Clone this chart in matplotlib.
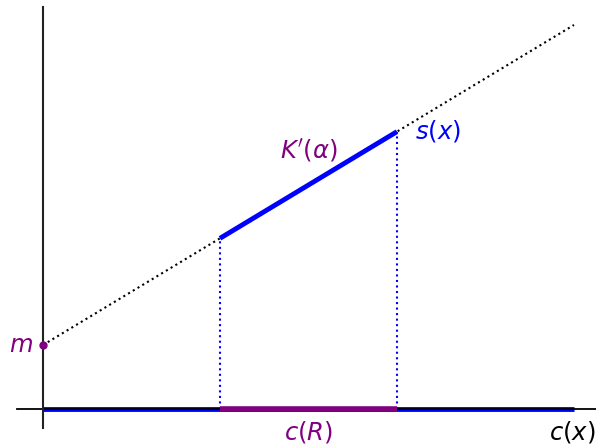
import numpy as np
import matplotlib.pyplot as plt

# line s(x) = m + k * c(x), drawn as dotted over the full range
m = 1.0
k = 5 / 6
x_full = [0.0, 6.0]
x_R = [2.0, 4.0]          # c(R) interval

labels = {
    "m": r"$m$",
    "K": r"$K'(\alpha)$",
    "s": r"$s(x)$",
    "cR": r"$c(R)$",
    "cx": r"$c(x)$",
}

purple = "#800080"
blue = "#0000ff"


def s(x):
    return m + k * np.asarray(x)


fig = plt.figure(figsize=(5.96, 4.45), dpi=100)
ax = fig.add_axes([0, 0, 1, 1])
ax.set_xlim(-0.486, 6.249)
ax.set_ylim(-0.5625, 6.39)
ax.axis("off")

# blue thick line along the x axis, then the axes themselves
ax.plot(x_full, [0, 0], color=blue, lw=3.5, solid_capstyle="butt", zorder=2)
ax.plot([-0.294, 6.25], [0, 0], color="black", lw=1.3, zorder=3)
ax.plot([0, 0], [-0.297, 6.28], color="#222222", lw=1.5, zorder=3)

# c(R) segment on the axis
ax.plot(x_R, [0, 0], color=purple, lw=4, solid_capstyle="butt", zorder=4)

# dotted line s(x)
ax.plot(x_full, s(x_full), color="black", ls=":", lw=1.5, zorder=2)

# vertical dotted projections
for xv in x_R:
    ax.plot([xv, xv], [0, s(xv)], color=blue, ls=":", lw=1.5, zorder=2)

# K'(alpha) segment
ax.plot(x_R, s(x_R), color=blue, lw=3.5, solid_capstyle="butt", zorder=5)

# point m
ax.plot([0], [m], "o", color=purple, ms=5, zorder=6)

fs = 17.5
ax.text(-0.25, m, labels["m"], color=purple, fontsize=fs, ha="center", va="center")
ax.text(3.0, 4.04, labels["K"], color=purple, fontsize=fs, ha="center", va="center")
ax.text(4.46, 4.34, labels["s"], color=blue, fontsize=fs, ha="center", va="center")
ax.text(3.0, -0.36, labels["cR"], color=purple, fontsize=fs, ha="center", va="center")
ax.text(5.98, -0.36, labels["cx"], color="black", fontsize=fs, ha="center", va="center")

fig.savefig("out.png", dpi=100)
